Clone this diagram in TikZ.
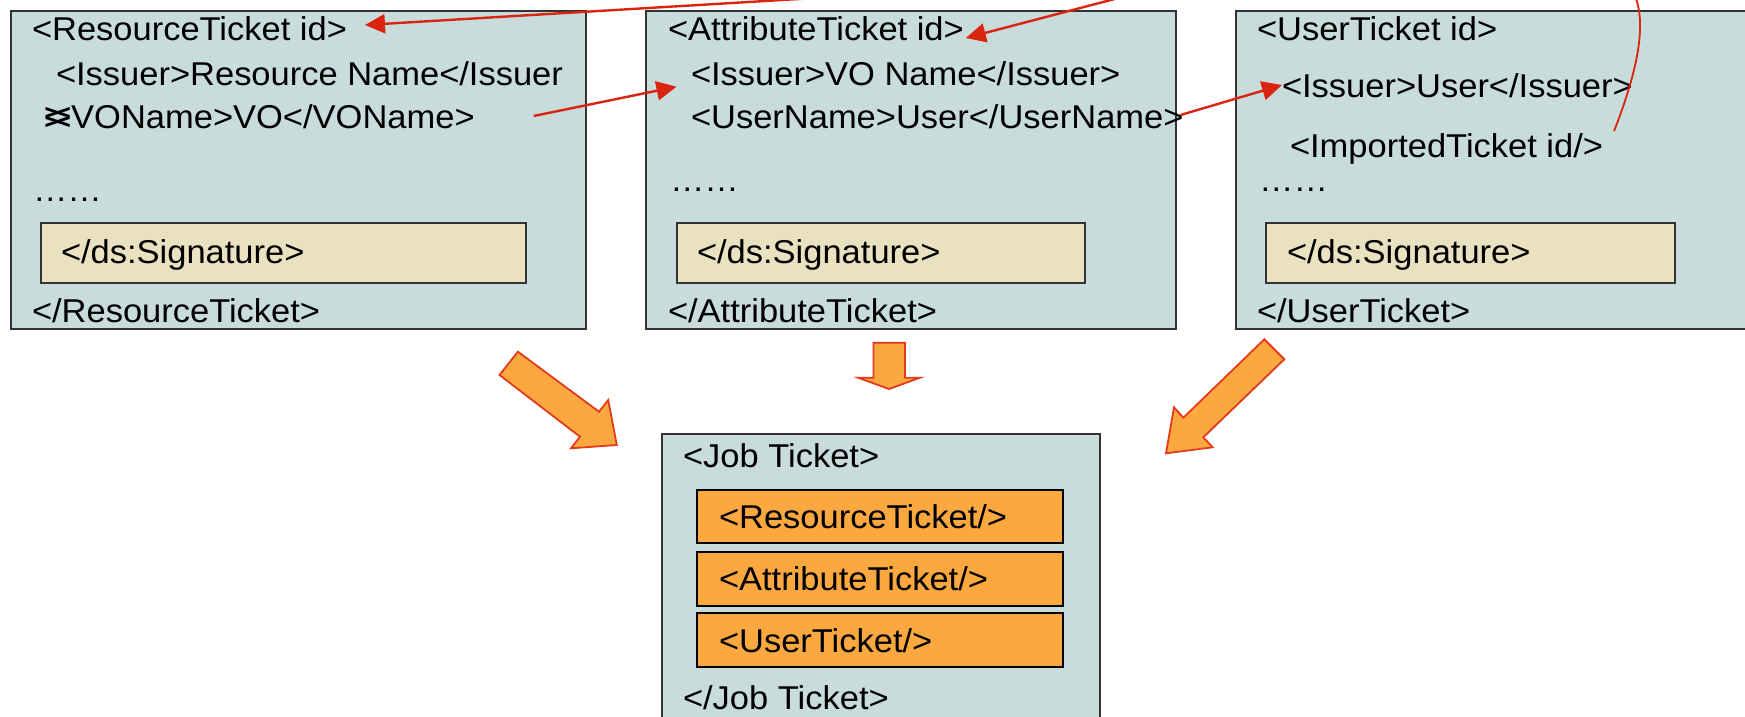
\documentclass[tikz,border=0pt]{standalone}
\usepackage{fontspec}
\usepackage{graphicx}
\setmainfont{Liberation Sans}[FakeStretch=1.045]
\usetikzlibrary{arrows.meta,calc}
\definecolor{ticketbg}{HTML}{C8DCDB}
\definecolor{sigbg}{HTML}{E9E1BF}
\definecolor{slot}{HTML}{FBA840}
\definecolor{linkred}{HTML}{DA2410}
\definecolor{bigedge}{HTML}{E33B1A}
\begin{document}
\begin{tikzpicture}[x=1pt,y=-1pt,
  ticket/.style={draw=black!80, line width=1.4pt, fill=ticketbg, anchor=north west, inner sep=0pt, outer sep=0pt},
  sigbox/.style={draw=black!80, line width=1.4pt, fill=sigbg, anchor=north west, inner sep=0pt, outer sep=0pt},
  slotbox/.style={draw=black, line width=1.4pt, fill=slot, anchor=north west, inner sep=0pt, outer sep=0pt},
  txt/.style={anchor=base west, inner sep=0pt, outer sep=0pt, font=\fontsize{33}{40}\selectfont},
  link/.style={draw=linkred, line width=2.4pt, -{Triangle[length=20pt,width=19pt]}},
  bigarrow/.style={draw=bigedge, line width=1.8pt, fill=slot, line join=miter}]
\useasboundingbox (0,0) rectangle (1745,717);

% ticket containers
\node[ticket, minimum width=575pt, minimum height=318pt] (rbox) at (11,11) {};
\node[ticket, minimum width=530pt, minimum height=318pt] (abox) at (646,11) {};
\node[ticket, minimum width=530pt, minimum height=318pt] (ubox) at (1236,11) {};
\node[ticket, minimum width=438pt, minimum height=300pt] (jbox) at (662,434) {};

% signature blocks
\node[sigbox, minimum width=485pt, minimum height=60pt] (rsig) at (41,223) {};
\node[sigbox, minimum width=408pt, minimum height=60pt] (asig) at (677,223) {};
\node[sigbox, minimum width=409pt, minimum height=60pt] (usig) at (1266,223) {};

% embedded ticket slots
\node[slotbox, minimum width=366pt, minimum height=53pt] (s1) at (697,490) {};
\node[slotbox, minimum width=366pt, minimum height=54pt] (s2) at (697,552) {};
\node[slotbox, minimum width=366pt, minimum height=54pt] (s3) at (697,613) {};

% resource ticket
\node[txt] (rt1) at (32,41) {<ResourceTicket id>};
\node[txt] (riss) at (56,85) {<Issuer>Resource Name</Issuer};
\node[txt] (vo) at (43,128) {\raisebox{-2pt}{\scalebox{1.45}[1.2]{\rlap{>}<}}\hspace{-1pt}VOName>VO</VOName>};
\node[txt] (rdots) at (33,201) {……};
\node[txt] (rsigt) at (61,263) {</ds:Signature>};
\node[txt] (rend) at (32,322) {</ResourceTicket>};

% attribute ticket
\node[txt] (at1) at (668,41) {<AttributeTicket id>};
\node[txt] (aiss) at (691,85) {<Issuer>VO Name</Issuer>};
\node[txt] (aun) at (691,128) {<UserName>User</UserName>};
\node[txt] (adots) at (670,191) {……};
\node[txt] (asigt) at (697,263) {</ds:Signature>};
\node[txt] (aend) at (668,322) {</AttributeTicket>};

% user ticket
\node[txt] (ut1) at (1257,41) {<UserTicket id>};
\node[txt] (uiss) at (1282,97) {<Issuer>User</Issuer>};
\node[txt] (uimp) at (1290,157) {<ImportedTicket id/>};
\node[txt] (udots) at (1259,191) {……};
\node[txt] (usigt) at (1287,263) {</ds:Signature>};
\node[txt] (uend) at (1257,322) {</UserTicket>};

% job ticket
\node[txt] (jt1) at (683,467) {<Job Ticket>};
\node[txt] (jr) at (719,528) {<ResourceTicket/>};
\node[txt] (ja) at (719,590) {<AttributeTicket/>};
\node[txt] (ju) at (719,652) {<UserTicket/>};
\node[txt] (jend) at (683,709) {</Job Ticket>};

% references between tickets
\coordinate (inR) at (832,-3);
\coordinate (inA) at (1126,-4);
\coordinate (outI) at (1633,-8);
\draw[link] (inR) -- ($(rt1.base east)+(18,-16)$);
\draw[link] (inA) -- ($(at1.base east)+(2,-3)$);
\draw[link] ($(vo.base east)+(59,-12)$) -- ($(aiss.base west)+(-14.5,1.7)$);
\draw[link] ($(aun.base east)+(-3,-13)$) -- ($(uiss.base west)+(0,-12)$);
\draw[draw=linkred, line width=1.8pt]
  ($(uimp.base east)+(11,-26)$) .. controls (1638,70) and (1648,20) .. (outI);

% block arrows gathering the tickets into the job ticket
\draw[bigarrow] (517.9,351.7) -- (599,411.7) -- (608.2,400) -- (616.8,445)
  -- (571,448.3) -- (580,436.7) -- (499.5,375) -- cycle;
\draw[bigarrow] (873.5,342.7) -- (905,342.7) -- (905,377.7) -- (920,377.7)
  -- (889,389) -- (858,377.7) -- (873.5,377.7) -- cycle;
\draw[bigarrow] (1264.3,339.3) -- (1284.3,359.3) -- (1203.3,437.3) -- (1212.7,447.3)
  -- (1166,453.3) -- (1174,407.3) -- (1183.3,417.7) -- cycle;
\end{tikzpicture}
\end{document}
